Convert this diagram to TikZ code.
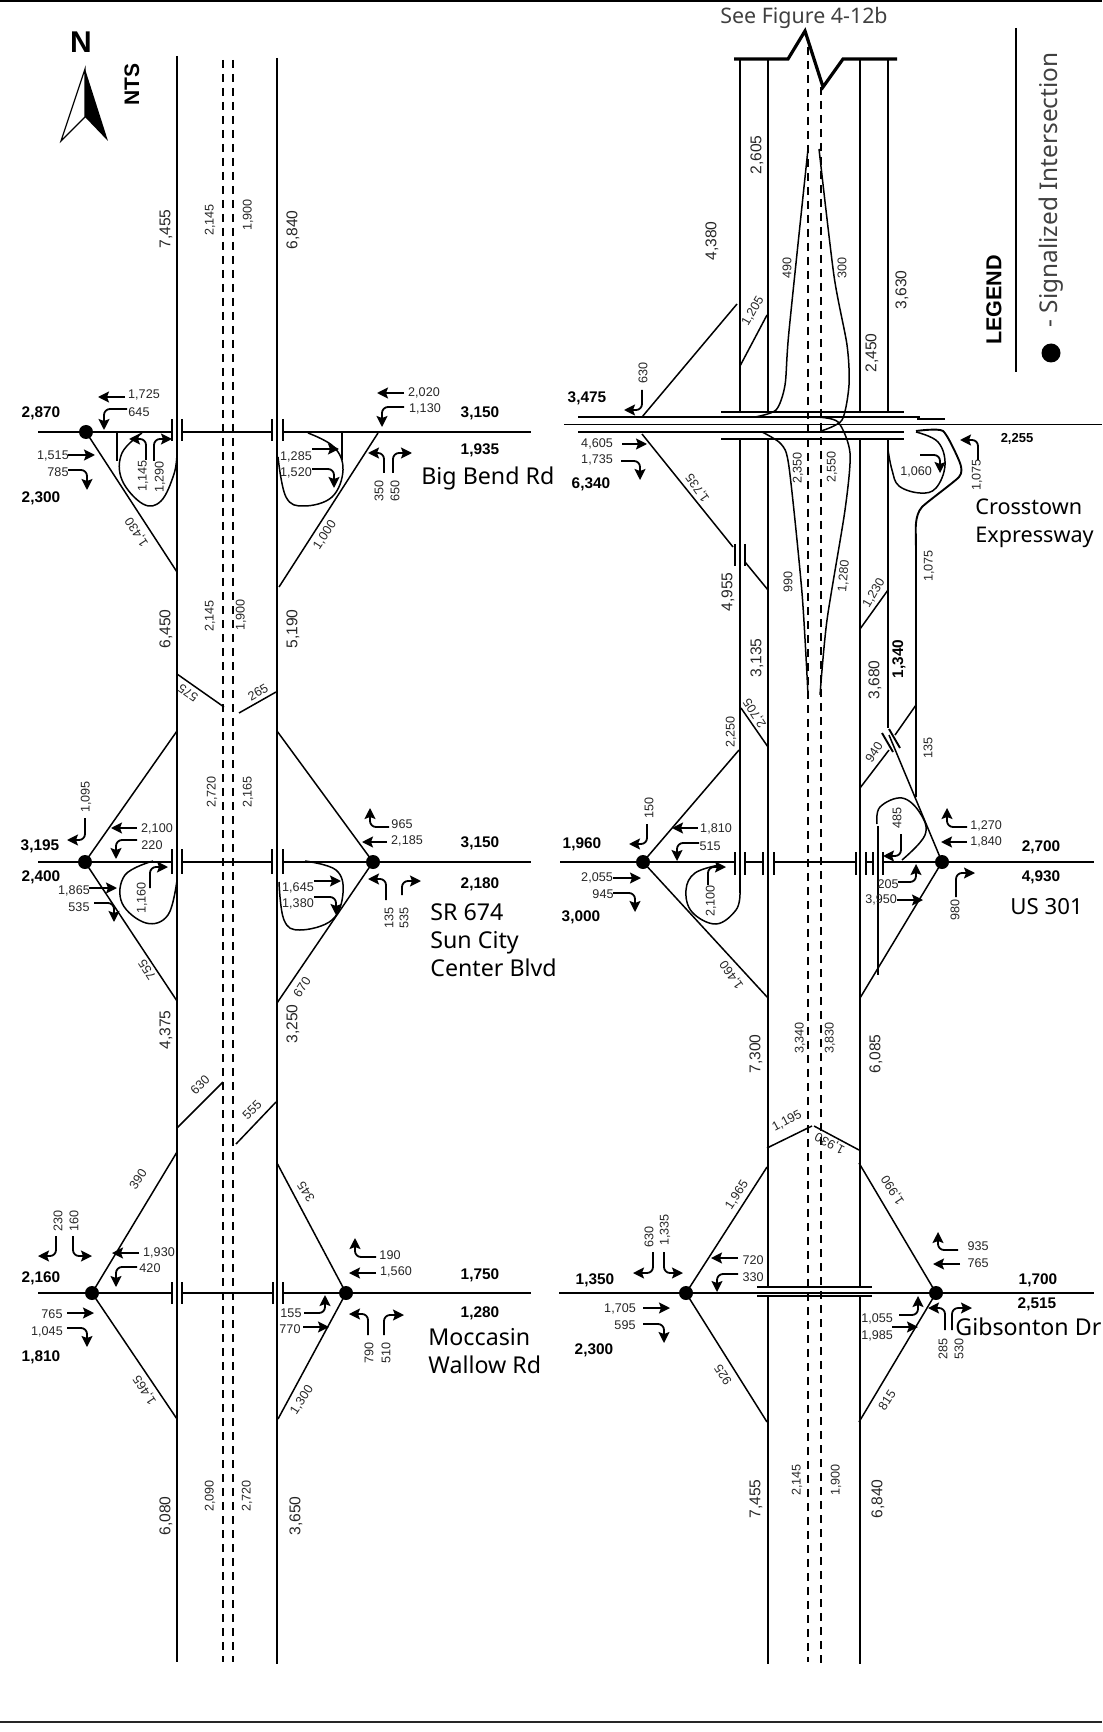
\documentclass[tikz,border=0pt]{standalone}
\usepackage{fontspec}
\setmainfont{Liberation Sans}
\newfontfamily\namefont{Noto Sans}
\usepackage{tikz}
\usetikzlibrary{arrows.meta}

\begin{document}
\begin{tikzpicture}[
  x=0.5pt, y=-0.5pt,
  every node/.style={align=center, inner sep=0pt},
  vol/.style={font=\fontsize{6.3}{7}\selectfont, text=black!85},
  volr/.style={vol, rotate=90},
  main/.style={font=\fontsize{7.8}{8}\selectfont, rotate=90, text=black!85},
  total/.style={font=\fontsize{7.7}{8}\selectfont\bfseries},
  road/.style={line width=0.95pt},
  ramp/.style={line width=0.75pt},
  lane/.style={line width=0.6pt, dash pattern=on 4pt off 3pt},
  tick/.style={line width=0.95pt},
  flow/.style={-{Stealth[length=5.5pt,width=5.5pt,inset=1pt]}, line width=0.9pt},
  turn/.style={flow, rounded corners=3pt},
  sig/.style={circle, fill=black, minimum size=7pt},
  roadname/.style={font=\namefont\fontsize{11.6}{14}\selectfont, align=left, anchor=west}
]
\useasboundingbox (0,0) rectangle (1102,1732);

\draw[line width=1.2pt] (0,1) -- (1102,1);
\draw[line width=1.2pt, black!85] (0,1722) -- (1102,1722);

\node[font=\fontsize{15}{16}\selectfont\bfseries] (north) at (81,42) {N};
\draw[line width=0.6pt] (85,69) -- (61,141) -- (85,117) -- cycle;
\fill (85,69) -- (108,141) -- (85,117) -- cycle;
\node[font=\fontsize{10.5}{11}\selectfont\bfseries, rotate=90] (nts) at (132,85) {NTS};
\node[font=\namefont\fontsize{10.7}{12}\selectfont, text=black!75] (seefig) at (804,18) {See Figure 4-12b};

\draw[road] (1016,28) -- (1016,372);
\node[font=\fontsize{10.8}{12}\selectfont\bfseries, rotate=90] (legend) at (994,300) {LEGEND};
\node[font=\namefont\fontsize{12.2}{13}\selectfont, rotate=90, text=black!75] (legendtext) at (1051,190) {- Signalized Intersection};
\node[sig, minimum size=9.5pt] (legendsig) at (1051,353) {};

\draw[road] (177,56) -- (177,1662);
\draw[road] (277,58) -- (277,1664);
\draw[lane] (223,60) -- (223,1662);
\draw[lane] (233,60) -- (233,1662);

\node[main] (a7455) at (166,229) {7,455};
\node[volr] (a2145) at (210,220) {2,145};
\node[volr] (a1900) at (248,215) {1,900};
\node[main] (a6840) at (293,230) {6,840};
\node[main] (b6450) at (166,629) {6,450};
\node[volr] (b2145) at (210,616) {2,145};
\node[volr] (b1900) at (241,615) {1,900};
\node[main] (b5190) at (293,629) {5,190};
\node[main] (c4375) at (166,1030) {4,375};
\node[main] (c3250) at (293,1024) {3,250};
\node[main] (d6080) at (166,1516) {6,080};
\node[volr] (d2090) at (210,1496) {2,090};
\node[volr] (d2720) at (247,1496) {2,720};
\node[main] (d3650) at (296,1516) {3,650};

\draw[ramp] (177,674) -- (224,707);
\draw[ramp] (276,692) -- (239,713);
\draw[ramp] (177,1128) -- (223,1082);
\draw[ramp] (276,1102) -- (236,1144);
\node[vol, rotate=145] (b575) at (188,693) {575};
\node[vol, rotate=30] (b265) at (258,692) {265};
\node[vol, rotate=45] (c630) at (200,1085) {630};
\node[vol, rotate=45] (c555) at (252,1110) {555};

\node[sig] (bbwest) at (86,432) {};
\draw[road] (38,432) -- (172,432);
\draw[road] (182,432) -- (272,432);
\draw[road] (283,432) -- (531,432);
\draw[tick] (172,419) -- (172,441);
\draw[tick] (182,419) -- (182,441);
\draw[tick] (272,419) -- (272,441);
\draw[tick] (283,419) -- (283,441);
\draw[ramp] (bbwest.center) -- (177,572);
\draw[ramp] (378,433) -- (279,587);
\draw[ramp] (117,432) -- (117,461);
\draw[ramp] (342,432) -- (342,460);
\draw[ramp] plot[smooth, tension=0.65] coordinates {(142,433) (122,453) (122,480) (143,504) (161,501) (174,474) (177,453)};
\draw[ramp] plot[smooth, tension=0.65] coordinates {(308,433) (334,447) (343,470) (332,497) (304,506) (286,497) (278,457)};
\node[vol] (bb1725) at (144,395) {1,725};
\draw[flow] (125,397) -- (98,397);
\node[vol] (bb645) at (139,412) {645};
\draw[turn] (127,409) -- (104,409) -- (104,430);
\node[total] (bb2870) at (41,413) {2,870};
\node[vol] (bb1515) at (53,456) {1,515};
\draw[flow] (68,455) -- (95,455);
\node[vol] (bb785) at (58,472) {785};
\draw[turn] (68,470) -- (87,470) -- (87,490);
\node[total] (bb2300) at (41,498) {2,300};
\node[volr] (bb1145) at (143,476) {1,145};
\draw[turn] (146,460) -- (146,439) -- (129,439);
\node[volr] (bb1290) at (160,477) {1,290};
\draw[turn] (154,461) -- (154,439) -- (172,439);
\node[vol] (bb2020) at (424,393) {2,020};
\draw[flow] (404,393) -- (377,393);
\node[vol] (bb1130) at (425,409) {1,130};
\draw[turn] (404,407) -- (382,407) -- (382,427);
\node[total] (bb3150) at (480,413) {3,150};
\node[total] (bb1935) at (480,450) {1,935};
\node[volr] (bb350) at (379,491) {350};
\draw[turn] (384,473) -- (384,453) -- (368,453);
\node[volr] (bb650) at (395,491) {650};
\draw[turn] (393,473) -- (393,453) -- (412,453);
\node[vol] (bb1285) at (296,457) {1,285};
\draw[flow] (312,449) -- (339,449);
\node[vol] (bb1520) at (296,473) {1,520};
\draw[turn] (312,469) -- (334,469) -- (334,488);
\node[roadname] (bbname) at (421,478) {Big Bend Rd};
\node[vol, rotate=123] (bb1430) at (137,532) {1,430};
\node[vol, rotate=57] (bb1000) at (325,535) {1,000};

\node[sig] (srwest) at (85,862) {};
\node[sig] (sreast) at (373,862) {};
\draw[road] (38,862) -- (172,862);
\draw[road] (182,862) -- (272,862);
\draw[road] (283,862) -- (531,862);
\draw[tick] (172,849) -- (172,874);
\draw[tick] (182,849) -- (182,874);
\draw[tick] (272,849) -- (272,874);
\draw[tick] (283,849) -- (283,874);
\draw[ramp] (srwest.center) -- (177,731);
\draw[ramp] (srwest.center) -- (177,1001);
\draw[ramp] (sreast.center) -- (277,731);
\draw[ramp] (sreast.center) -- (277,1003);
\draw[ramp] plot[smooth, tension=0.65] coordinates {(153,861) (125,875) (122,903) (146,923) (168,915) (177,880)};
\draw[ramp] plot[smooth, tension=0.65] coordinates {(305,861) (336,870) (343,893) (332,920) (300,930) (284,920) (279,882)};
\node[volr] (sr1095) at (86,797) {1,095};
\draw[turn] (85,818) -- (85,840) -- (67,840);
\node[vol] (sr2100) at (157,829) {2,100};
\draw[flow] (137,828) -- (111,828);
\node[vol] (sr220) at (152,845) {220};
\draw[turn] (137,840) -- (116,840) -- (116,859);
\node[total] (sr3195) at (40,846) {3,195};
\node[total] (sr2400) at (41,877) {2,400};
\node[vol] (sr1865) at (74,891) {1,865};
\draw[flow] (89,888) -- (117,888);
\node[vol] (sr535a) at (79,907) {535};
\draw[turn] (94,903) -- (114,903) -- (114,922);
\node[volr] (sr1160) at (142,898) {1,160};
\draw[turn] (150,888) -- (150,867) -- (168,867);
\node[vol] (sr965) at (402,824) {965};
\draw[turn] (389,827) -- (370,827) -- (370,808);
\node[vol] (sr2185) at (407,841) {2,185};
\draw[flow] (387,842) -- (362,842);
\node[total] (sr3150) at (480,843) {3,150};
\node[total] (sr2180) at (480,884) {2,180};
\node[volr] (sr135) at (389,918) {135};
\draw[turn] (386,900) -- (386,879) -- (368,879);
\node[volr] (sr535b) at (404,918) {535};
\draw[turn] (402,895) -- (402,881) -- (421,881);
\node[vol] (sr1645) at (298,888) {1,645};
\draw[flow] (314,881) -- (341,881);
\node[vol] (sr1380) at (298,904) {1,380};
\draw[turn] (314,897) -- (336,897) -- (336,915);
\node[volr] (sr2720) at (212,792) {2,720};
\node[volr] (sr2165) at (248,792) {2,165};
\node[vol, rotate=123] (sr755) at (147,970) {755};
\node[vol, rotate=57] (sr670) at (302,987) {670};
\node[roadname] (srname) at (430,940) {SR 674\\Sun City\\Center Blvd};

\node[sig] (mwwest) at (92,1293) {};
\node[sig] (mweast) at (346,1293) {};
\draw[road] (38,1293) -- (172,1293);
\draw[road] (182,1293) -- (273,1293);
\draw[road] (283,1293) -- (531,1293);
\draw[tick] (172,1282) -- (172,1304);
\draw[tick] (182,1282) -- (182,1304);
\draw[tick] (273,1282) -- (273,1304);
\draw[tick] (283,1282) -- (283,1304);
\draw[ramp] (mwwest.center) -- (177,1152);
\draw[ramp] (mwwest.center) -- (177,1419);
\draw[ramp] (mweast.center) -- (277,1163);
\draw[ramp] (mweast.center) -- (278,1419);
\node[volr] (mw230) at (58,1221) {230};
\draw[turn] (56,1236) -- (56,1256) -- (38,1256);
\node[volr] (mw160) at (74,1221) {160};
\draw[turn] (73,1236) -- (73,1256) -- (92,1256);
\node[vol] (mw1930) at (159,1253) {1,930};
\draw[flow] (139,1253) -- (112,1253);
\node[vol] (mw420) at (150,1268) {420};
\draw[turn] (137,1267) -- (116,1267) -- (116,1287);
\node[total] (mw2160) at (41,1278) {2,160};
\node[vol] (mw765) at (52,1314) {765};
\draw[flow] (67,1313) -- (94,1313);
\node[vol] (mw1045) at (47,1332) {1,045};
\draw[turn] (67,1328) -- (87,1328) -- (87,1347);
\node[total] (mw1810) at (41,1357) {1,810};
\node[vol] (mw190) at (390,1255) {190};
\draw[turn] (376,1257) -- (355,1257) -- (355,1238);
\node[vol] (mw1560) at (396,1272) {1,560};
\draw[flow] (376,1273) -- (349,1273);
\node[total] (mw1750) at (480,1275) {1,750};
\node[total] (mw1280) at (480,1313) {1,280};
\node[vol] (mw155) at (291,1313) {155};
\draw[turn] (304,1313) -- (325,1313) -- (325,1295);
\node[vol] (mw770) at (290,1329) {770};
\draw[flow] (303,1327) -- (329,1327);
\node[volr] (mw790) at (369,1353) {790};
\draw[turn] (368,1335) -- (368,1314) -- (349,1314);
\node[volr] (mw510) at (386,1353) {510};
\draw[turn] (384,1335) -- (384,1315) -- (404,1315);
\node[vol, rotate=123] (mw1465) at (145,1390) {1,465};
\node[vol, rotate=57] (mw1300) at (302,1400) {1,300};
\node[vol, rotate=57] (mw390) at (138,1179) {390};
\node[vol, rotate=123] (mw345) at (306,1192) {345};
\node[roadname] (mwname) at (428,1351) {Moccasin\\Wallow Rd};

\draw[line width=1.6pt] (734,59) -- (788,59) -- (805,31) -- (823,87) -- (843,59) -- (897,59);
\draw[road] (740,59) -- (740,412);
\draw[road] (768,59) -- (768,412);
\draw[road] (860,59) -- (860,412);
\draw[road] (888,59) -- (888,412);
\draw[road] (740,439) -- (740,893);
\draw[road] (768,439) -- (768,1287);
\draw[road] (860,439) -- (860,1287);
\draw[road] (888,439) -- (888,728);
\draw[road] (768,1296) -- (768,1664);
\draw[road] (860,1296) -- (860,1664);
\draw[lane] (808,47) -- (808,1662);
\draw[lane] (821,87) -- (821,1664);

\node[main] (e4380) at (712,241) {4,380};
\node[main] (e2605) at (757,155) {2,605};
\node[volr] (e490) at (787,268) {490};
\node[volr] (e300) at (842,268) {300};
\node[main] (e3630) at (902,290) {3,630};
\node[main] (e2450) at (872,353) {2,450};
\node[vol, rotate=60] (e1205) at (753,311) {1,205};

\draw[road] (721,412) -- (904,412);
\draw[road] (578,417) -- (920,417);
\draw[road] (917,419) -- (945,419);
\draw[road] (564,424.5) -- (1102,424.5);
\draw[road] (578,432) -- (904,432);
\draw[road] (721,439) -- (904,439);
\draw[ramp] (642,417) -- (737,304);
\draw[ramp] (740,366) -- (767,315);
\draw[ramp] (642,434) -- (733,547);
\draw[ramp] (745,562) -- (768,590);
\draw[tick] (735,544) -- (735,566);
\draw[tick] (745,544) -- (745,566);
\draw[ramp] (860,629) -- (888,590);
\draw[ramp] plot[smooth, tension=0.45] coordinates {(808,149) (789,331) (785,385) (776,410) (755,417)};
\draw[ramp] plot[smooth, tension=0.45] coordinates {(819,149) (834,276) (847,345) (849,385) (842,420) (821,431)};
\draw[ramp] plot[smooth, tension=0.45] coordinates {(762,432) (781,444) (789,467) (802,593) (808,695)};
\draw[ramp] plot[smooth, tension=0.45] coordinates {(816,417) (838,422) (850,453) (845,510) (827,620) (820,695)};
\draw[road] plot[smooth, tension=0.35] coordinates {(916,431) (943,431) (960,463) (959,477) (922,507) (916,523) (916,560) (916,797)};
\draw[ramp] plot[smooth, tension=0.65] coordinates {(916,432) (938,442) (945,465) (936,488) (920,493) (899,486) (892,470) (888,450)};
\node[volr] (cx630) at (643,373) {630};
\draw[turn] (642,390) -- (642,410) -- (624,410);
\node[total] (cx3475) at (587,398) {3,475};
\node[vol] (cx4605) at (597,444) {4,605};
\draw[flow] (622,444) -- (647,444);
\node[vol] (cx1735a) at (597,460) {1,735};
\draw[turn] (621,461) -- (640,461) -- (640,480);
\node[total] (cx6340) at (591,484) {6,340};
\node[vol, rotate=125] (cx1735b) at (698,488) {1,735};
\node[volr] (cx2350) at (798,468) {2,350};
\node[volr] (cx2550) at (832,467) {2,550};
\node[vol] (cx1060) at (916,472) {1,060};
\draw[turn] (920,455) -- (940,455) -- (940,473);
\node[volr] (cx1075a) at (977,475) {1,075};
\draw[turn] (978,460) -- (978,440) -- (960,440);
\node[font=\fontsize{6.5}{7}\selectfont\bfseries] (cx2255) at (1017,439) {2,255};
\node[roadname, font=\namefont\fontsize{10.8}{14}\selectfont] (cxname) at (975,523) {Crosstown\\Expressway};
\node[volr] (cx1075b) at (929,566) {1,075};
\node[volr] (cx990) at (788,582) {990};
\node[vol, rotate=85] (cx1280) at (844,576) {1,280};
\node[vol, rotate=60] (cx1230) at (874,593) {1,230};
\node[main] (f4955) at (728,592) {4,955};
\node[main] (f3135) at (757,658) {3,135};
\node[main] (f3680) at (875,680) {3,680};
\node[total, rotate=90] (f1340) at (899,659) {1,340};
\node[volr] (f135) at (928,748) {135};
\node[vol, rotate=123] (f2705) at (755,713) {2,705};
\node[volr] (f2250) at (731,732) {2,250};
\node[vol, rotate=57] (f940) at (874,752) {940};

\node[sig] (uswest) at (643,862) {};
\node[sig] (useast) at (942,862) {};
\draw[road] (560,862) -- (735,862);
\draw[road] (745,862) -- (763,862);
\draw[road] (774,862) -- (856,862);
\draw[road] (866,862) -- (873,862);
\draw[road] (883,862) -- (1094,862);
\draw[tick] (735,852) -- (735,875);
\draw[tick] (745,852) -- (745,875);
\draw[tick] (763,852) -- (763,875);
\draw[tick] (774,852) -- (774,875);
\draw[tick] (856,852) -- (856,875);
\draw[tick] (866,852) -- (866,875);
\draw[tick] (873,852) -- (873,875);
\draw[tick] (883,852) -- (883,875);
\draw[road] (878,826) -- (878,975);
\draw[ramp] (uswest.center) -- (739,750);
\draw[ramp] (uswest.center) -- (768,998);
\draw[ramp] (741,708) -- (768,747);
\draw[ramp] (useast.center) -- (889,735);
\draw[ramp] (useast.center) -- (860,998);
\draw[ramp] (916,705) -- (895,735);
\draw[ramp] (889,750) -- (860,788);
\draw[tick] (882,733) -- (893,752);
\draw[tick] (889,729) -- (900,748);
\draw[ramp] plot[smooth, tension=0.65] coordinates {(740,893) (736,910) (716,924) (692,912) (686,890) (695,873) (719,865)};
\draw[ramp] plot[smooth, tension=0.65] coordinates {(877,824) (880,807) (902,798) (920,813) (925,835) (902,860)};
\node[volr] (us150) at (649,808) {150};
\draw[turn] (647,824) -- (647,844) -- (629,844);
\node[total] (us1960) at (582,844) {1,960};
\node[vol] (us1810) at (716,829) {1,810};
\draw[flow] (698,828) -- (672,828);
\node[vol] (us515) at (710,846) {515};
\draw[turn] (699,843) -- (677,843) -- (677,861);
\node[vol] (us2055) at (597,878) {2,055};
\draw[flow] (613,878) -- (641,878);
\node[vol] (us945) at (603,894) {945};
\draw[turn] (613,893) -- (635,893) -- (635,912);
\node[total] (us3000) at (581,917) {3,000};
\node[volr] (us2100) at (711,901) {2,100};
\draw[turn] (708,885) -- (708,867) -- (726,867);
\node[vol, rotate=125] (us1460) at (732,975) {1,460};
\node[volr] (us485) at (897,818) {485};
\draw[turn] (901,834) -- (901,856) -- (883,856);
\node[vol] (us205) at (888,884) {205};
\draw[turn] (898,882) -- (916,882) -- (916,864);
\node[vol] (us3950) at (881,900) {3,950};
\draw[flow] (897,900) -- (923,900);
\node[vol] (us1270) at (986,826) {1,270};
\draw[turn] (967,827) -- (947,827) -- (947,808);
\node[vol] (us1840) at (986,842) {1,840};
\draw[flow] (967,842) -- (941,842);
\node[total] (us2700) at (1041,847) {2,700};
\node[total] (us4930) at (1041,877) {4,930};
\node[volr] (us980) at (955,910) {980};
\draw[turn] (956,897) -- (956,873) -- (975,873);
\node[roadname, font=\namefont\fontsize{11.1}{14}\selectfont] (usname) at (1010,907) {US 301};

\node[main] (g7300) at (756,1054) {7,300};
\node[volr] (g3340) at (800,1038) {3,340};
\node[volr] (g3830) at (830,1038) {3,830};
\node[main] (g6085) at (876,1054) {6,085};
\draw[ramp] (767,1148) -- (812,1126);
\draw[ramp] (859,1150) -- (814,1126);
\node[vol, rotate=28] (g1195) at (787,1121) {1,195};
\node[vol, rotate=152] (g1930) at (830,1143) {1,930};

\node[sig] (gbwest) at (686,1293) {};
\node[sig] (gbeast) at (936,1293) {};
\draw[road] (559,1293) -- (1094,1293);
\draw[road] (757,1287) -- (872,1287);
\draw[road] (757,1296) -- (872,1296);
\draw[ramp] (gbwest.center) -- (767,1167);
\draw[ramp] (gbwest.center) -- (767,1422);
\draw[ramp] (gbeast.center) -- (859,1163);
\draw[ramp] (gbeast.center) -- (859,1422);
\node[volr] (gb630) at (649,1237) {630};
\draw[turn] (653,1252) -- (653,1273) -- (633,1273);
\node[volr] (gb1335) at (665,1230) {1,335};
\draw[turn] (664,1252) -- (664,1273) -- (683,1273);
\node[vol] (gb720) at (753,1260) {720};
\draw[flow] (738,1258) -- (711,1258);
\node[vol] (gb330) at (753,1277) {330};
\draw[turn] (738,1274) -- (717,1274) -- (717,1292);
\node[total] (gb1350) at (595,1280) {1,350};
\node[vol] (gb1705) at (620,1309) {1,705};
\draw[flow] (643,1308) -- (670,1308);
\node[vol] (gb595) at (625,1325) {595};
\draw[turn] (643,1324) -- (664,1324) -- (664,1343);
\node[total] (gb2300) at (594,1350) {2,300};
\node[vol] (gb935) at (978,1246) {935};
\draw[turn] (958,1250) -- (938,1250) -- (938,1232);
\node[vol] (gb765) at (978,1263) {765};
\draw[flow] (960,1264) -- (933,1264);
\node[total] (gb1700) at (1038,1280) {1,700};
\node[total] (gb2515) at (1037,1304) {2,515};
\node[vol] (gb1055) at (877,1319) {1,055};
\draw[turn] (899,1315) -- (918,1315) -- (918,1296);
\node[vol] (gb1985) at (877,1336) {1,985};
\draw[flow] (892,1327) -- (918,1327);
\node[volr] (gb285) at (943,1349) {285};
\draw[turn] (945,1330) -- (945,1308) -- (928,1308);
\node[volr] (gb530) at (959,1349) {530};
\draw[turn] (952,1330) -- (952,1308) -- (972,1308);
\node[roadname] (gbname) at (955,1327) {Gibsonton Dr};
\node[vol, rotate=57] (gb1965) at (737,1195) {1,965};
\node[vol, rotate=123] (gb1990) at (893,1190) {1,990};
\node[vol, rotate=123] (gb925) at (723,1375) {925};
\node[vol, rotate=57] (gb815) at (887,1400) {815};
\node[main] (h7455) at (756,1499) {7,455};
\node[volr] (h2145) at (797,1480) {2,145};
\node[volr] (h1900) at (836,1480) {1,900};
\node[main] (h6840) at (878,1499) {6,840};

\end{tikzpicture}
\end{document}
